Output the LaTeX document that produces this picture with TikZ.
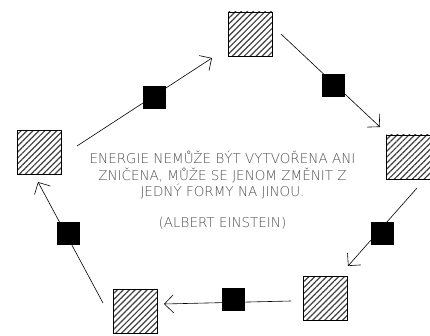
\documentclass[tikz,border=0pt]{standalone}
\usepackage{fontspec}
\setmainfont{DejaVu Sans ExtraLight}
\usetikzlibrary{arrows.meta,patterns.meta}
\definecolor{txtgray}{RGB}{80,80,80}
\tikzset{
  hatchbox/.style={draw=black, line width=0.8pt, minimum size=44pt, inner sep=0pt,
    pattern={Lines[angle=45,distance=4.2pt,line width=1.2pt]}, pattern color=black!75},
  blackbox/.style={fill=black, draw=black, minimum size=22pt, inner sep=0pt},
  conn/.style={draw=black, line width=0.6pt, -{Straight Barb[length=9pt,width=18pt,line width=0.6pt]}},
  quote/.style={text=txtgray, font=\fontsize{13.5}{16.5}\selectfont, align=center, inner sep=0pt}
}
\begin{document}
\begin{tikzpicture}[x=1pt,y=-1pt]
\useasboundingbox (0,0) rectangle (430,336);
\node[hatchbox] (top) at (250.5,34) {};
\node[hatchbox] (right) at (408,157) {};
\node[hatchbox] (br) at (325.5,298.5) {};
\node[hatchbox] (bl) at (135.5,311) {};
\node[hatchbox] (left) at (39,152.5) {};
% free ends
\coordinate (a1) at (77,146);   \coordinate (a2) at (212,58);
\coordinate (b1) at (281,34);   \coordinate (b2) at (380,127);
\coordinate (c1) at (417,188);  \coordinate (c2) at (348,266);
\coordinate (d1) at (291,301);  \coordinate (d2) at (164,304);
\coordinate (e1) at (103,303);  \coordinate (e2) at (38,182);
\draw[conn] (a1) -- (a2);
\draw[conn] (b1) -- (b2);
\draw[conn] (c1) -- (c2);
\draw[conn] (d1) -- (d2);
\draw[conn] (e1) -- (e2);
\node[blackbox] (m1) at (154,97) {};
\node[blackbox] (m2) at (333,85) {};
\node[blackbox] (m3) at (382,233) {};
\node[blackbox] (m4) at (233,299) {};
\node[blackbox] (m5) at (68,233) {};
\node[quote, anchor=north] (q) at (222.5,151) {ENERGIE NEMŮŽE BÝT VYTVOŘENA ANI\\ZNIČENA, MŮŽE SE JENOM ZMĚNIT Z\\JEDNÝ FORMY NA JINOU.};
\node[quote, anchor=base] (auth) at (222.5,228) {(ALBERT EINSTEIN)};
\end{tikzpicture}
\end{document}
